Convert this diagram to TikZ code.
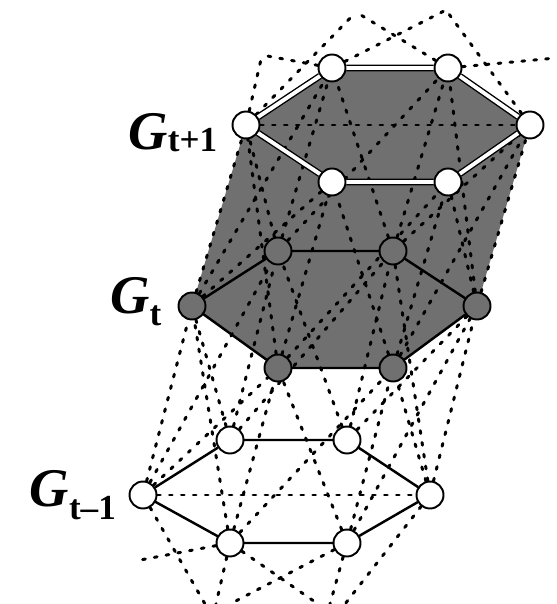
\documentclass[tikz,border=0pt]{standalone}
\usepackage{fontspec}
\setmainfont{Liberation Serif}
\usepackage{xcolor}
\usepackage{tikz}
\usetikzlibrary{positioning,backgrounds}
\definecolor{ink}{HTML}{000000}
\definecolor{slab}{HTML}{707070}
\newcommand{\glab}[2]{{\fontsize{31}{31}\selectfont\bfseries\itshape G}\raisebox{#2}{\fontsize{20}{20}\selectfont\bfseries #1}}
\tikzset{
  base/.style={draw=ink, line width=1.4pt, line cap=round},
  twin/.style={draw=ink, line width=0.8pt, double=white, double distance=2.2pt},
  tie/.style={draw=ink, line width=1.7pt, line cap=round, dash pattern=on 1.6pt off 5.2pt},
  wdot/.style={circle, draw=ink, fill=white, line width=1.1pt, minimum size=0.54cm, inner sep=0pt},
  gdot/.style={wdot, fill=slab},
  lab/.style={text=ink, inner sep=0pt, anchor=base east},
}

\begin{document}
\begin{tikzpicture}[x=0.02cm,y=-0.02cm]
  \useasboundingbox (0,0) rectangle (556,604);
  % layer t-1
  \node[wdot] (A1) at (143,495) {};
  \node[wdot] (A2) at (230,440) {};
  \node[wdot] (A3) at (347,440) {};
  \node[wdot] (A4) at (430,495) {};
  \node[wdot] (A5) at (347,543) {};
  \node[wdot] (A6) at (230,543) {};
  % layer t
  \node[gdot] (B1) at (192,306) {};
  \node[gdot] (B2) at (278,251) {};
  \node[gdot] (B3) at (393,251) {};
  \node[gdot] (B4) at (477,306) {};
  \node[gdot] (B5) at (393,368) {};
  \node[gdot] (B6) at (278,368) {};
  % layer t+1
  \node[wdot] (C1) at (246,125) {};
  \node[wdot] (C2) at (332,68) {};
  \node[wdot] (C3) at (448,68) {};
  \node[wdot] (C4) at (530,125) {};
  \node[wdot] (C5) at (448,182) {};
  \node[wdot] (C6) at (332,182) {};
  % loose ends towards t+2 and t-2
  \coordinate (U1) at (262,55);
  \coordinate (U2) at (356,12);
  \coordinate (U3) at (446,10);
  \coordinate (U4) at (556,58);
  \coordinate (D1) at (135,561);
  \coordinate (D2) at (205,604);
  \coordinate (D3) at (216,604);
  \coordinate (D4) at (318,604);
  \coordinate (D5) at (230,604);
  \coordinate (D6) at (330,604);
  \coordinate (D7) at (345,604);

  \begin{scope}[on background layer]
    \fill[slab] (C1.center) -- (C2.center) -- (C3.center) -- (C4.center)
      -- (B4.center) -- (B5.center) -- (B6.center) -- (B1.center) -- cycle;
    % temporal links
    \foreach \i in {1,...,6}
      \foreach \d in {-1,0,1} {
        \pgfmathtruncatemacro\j{mod(\i+\d+5,6)+1}
        \draw[tie] (A\i) -- (B\j);
        \draw[tie] (B\i) -- (C\j);
      }
    \foreach \a/\b in {A1/A4, C1/C4, C1/U1, C2/U1, C1/U2, C3/U2, C2/U3, C4/U3, C3/U4,
                       A6/D1, A1/D2, A6/D3, A6/D4, A5/D5, A5/D6, A4/D7}
      \draw[tie] (\a) -- (\b);
  \end{scope}

  % snapshot edges
  \draw[base] (A1) -- (A2) -- (A3) -- (A4) -- (A5) -- (A6) -- (A1);
  \draw[base] (B1) -- (B2) -- (B3) -- (B4) -- (B5) -- (B6) -- (B1);
  \draw[twin] (C1) -- (C2) -- (C3) -- (C4) -- (C5) -- (C6) -- (C1);

  \node[lab, left=8pt of C1, yshift=-4.5pt] (LC) {\glab{t+1}{-1pt}};
  \node[lab, left=9pt of B1, yshift=2.3pt] (LB) {\glab{t}{-7pt}};
  \node[lab, left=7pt of A1] (LA) {\glab{t--1}{-7pt}};
\end{tikzpicture}
\end{document}
